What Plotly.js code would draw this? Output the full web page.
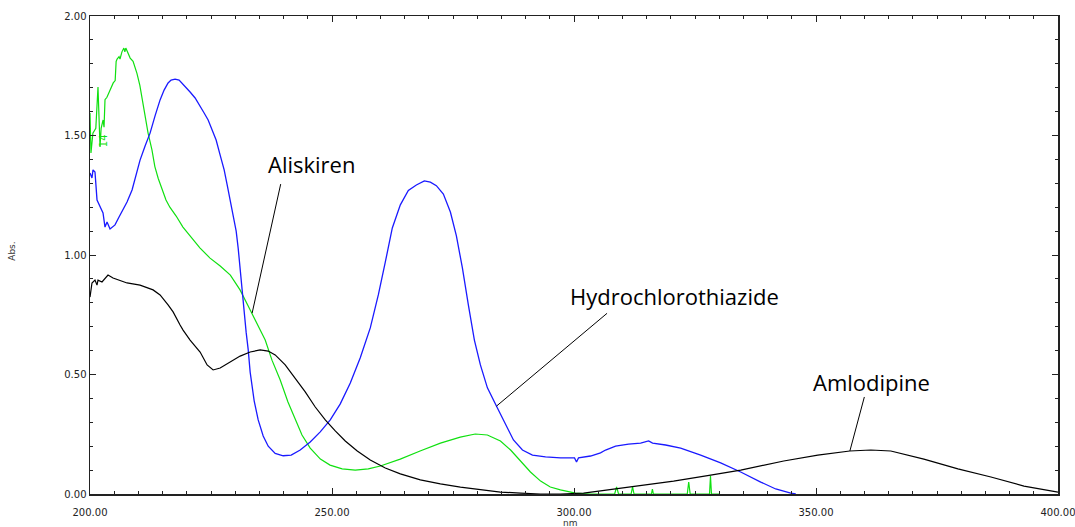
<!DOCTYPE html>
<html>
<head>
<meta charset="utf-8">
<script src="https://cdn.plot.ly/plotly-3.0.1.min.js"></script>
<style>html,body{margin:0;padding:0;background:#fff;}#chart{width:1075px;height:527px;}</style>
</head>
<body>
<div id="chart"></div>
<script>
// Aliskiren (green)
const aliskirenX = [200.0,200.2,200.6,201.2,201.65,201.9,202.07,202.3,202.7,202.9,203.1,203.5,203.9,204.3,204.8,205.2,205.4,205.6,206.0,206.2,206.6,207.0,207.2,207.4,207.9,208.3,208.9,209.7,210.3,210.8,211.4,212.0,212.8,213.4,214.1,214.9,215.7,216.5,217.8,219.2,220.7,222.7,224.8,226.9,229.0,231.0,233.1,234.7,236.2,237.6,239.3,240.9,242.4,243.8,245.5,247.6,249.6,252.1,254.8,257.5,260.0,264.1,268.2,272.4,276.5,279.6,282.1,284.8,286.9,288.9,291.0,293.1,295.1,297.2,300.3,303.4,308.4,308.8,309.2,311.8,312.1,312.4,316.0,316.2,316.4,323.4,323.7,324.0,328.0,328.2,328.4,330.0];
const aliskirenY = [1.594,1.427,1.51,1.53,1.703,1.48,1.452,1.53,1.565,1.535,1.65,1.66,1.68,1.70,1.72,1.73,1.81,1.82,1.83,1.82,1.85,1.866,1.85,1.866,1.845,1.824,1.81,1.76,1.71,1.65,1.586,1.51,1.44,1.37,1.32,1.27,1.23,1.20,1.163,1.117,1.08,1.03,0.987,0.954,0.916,0.854,0.77,0.707,0.644,0.56,0.477,0.385,0.31,0.247,0.192,0.146,0.121,0.105,0.10,0.105,0.117,0.146,0.18,0.213,0.238,0.251,0.247,0.222,0.184,0.138,0.092,0.054,0.029,0.017,0.004,0.0,0.0,0.03,0.0,0.0,0.03,0.0,0.0,0.02,0.0,0.0,0.05,0.0,0.0,0.075,0.0,0.0];

// Hydrochlorothiazide (blue)
const hctX = [200.0,200.41,200.62,201.03,201.45,202.07,202.69,203.1,203.52,204.14,205.17,206.0,206.83,207.65,208.69,209.51,210.34,211.38,212.41,213.44,214.48,215.31,216.13,216.75,217.58,218.41,219.44,220.68,221.72,222.75,223.58,224.41,225.23,226.06,226.89,227.72,228.34,228.96,229.58,230.2,230.61,231.02,231.44,231.85,232.27,232.68,233.09,233.92,234.75,235.78,236.82,238.26,239.92,241.57,243.43,245.5,247.57,249.64,251.71,253.78,255.84,257.91,259.57,261.01,262.46,264.12,265.77,267.43,269.08,270.32,271.56,273.01,274.46,275.7,276.94,278.18,279.42,280.66,282.11,283.97,285.83,287.49,289.35,291.42,294.11,297.21,300.11,300.52,300.93,303.42,305.48,306.52,308.59,311.27,313.76,315.41,316.24,318.93,322.03,326.17,330.3,334.44,338.58,341.68,344.78,345.82];
const hctY = [1.343,1.322,1.356,1.347,1.23,1.20,1.176,1.117,1.138,1.109,1.126,1.159,1.188,1.222,1.272,1.335,1.397,1.456,1.51,1.582,1.649,1.69,1.72,1.732,1.736,1.732,1.711,1.682,1.657,1.619,1.594,1.565,1.523,1.481,1.418,1.356,1.293,1.23,1.165,1.10,1.03,0.94,0.84,0.75,0.675,0.605,0.51,0.39,0.31,0.243,0.20,0.17,0.16,0.163,0.184,0.218,0.26,0.31,0.377,0.464,0.57,0.695,0.833,0.97,1.113,1.21,1.27,1.293,1.31,1.305,1.29,1.255,1.18,1.08,0.946,0.79,0.644,0.54,0.444,0.368,0.29,0.226,0.184,0.163,0.155,0.151,0.151,0.134,0.151,0.159,0.172,0.184,0.20,0.209,0.213,0.222,0.213,0.205,0.192,0.163,0.13,0.092,0.05,0.021,0.004,0.0];

// Amlodipine (black)
const amlodipineX = [200.0,200.41,201.03,201.45,201.65,202.48,203.72,204.76,207.65,210.34,213.03,214.48,216.13,217.17,218.61,219.23,220.68,222.75,224.2,225.44,226.89,228.96,231.02,233.09,235.16,236.82,238.26,240.33,242.4,244.47,246.54,248.61,250.67,252.74,255.22,257.91,261.01,264.12,268.25,272.39,276.53,280.66,284.8,288.94,293.07,297.21,301.97,305.48,310.24,315.82,320.58,328.23,334.44,343.33,350.37,356.98,361.33,365.46,372.29,379.32,386.14,392.97,400.0];
const amlodipineY = [0.824,0.883,0.895,0.874,0.895,0.887,0.916,0.904,0.883,0.874,0.854,0.833,0.791,0.762,0.707,0.686,0.644,0.594,0.54,0.519,0.527,0.552,0.577,0.594,0.603,0.598,0.582,0.54,0.485,0.427,0.364,0.31,0.264,0.222,0.18,0.142,0.109,0.084,0.059,0.042,0.029,0.017,0.008,0.004,0.0,0.0,0.004,0.013,0.025,0.042,0.054,0.079,0.10,0.138,0.163,0.18,0.184,0.18,0.146,0.105,0.071,0.033,0.008];

// Labels and the curve points they point to
const labelNames = ['Aliskiren', 'Hydrochlorothiazide', 'Amlodipine'];
const labelX = [233.5, 284.0, 357.0];
const labelY = [0.757, 0.368, 0.18];
const textOffsets = [[59, -149], [178, -110], [22, -69]];
const lineOffsets = [[29, -131], [112, -94], [15, -56]];

const xTicks = [200, 250, 300, 350, 400];
const yTicks = [0, 0.5, 1.0, 1.5, 2.0];

const traces = [
  {x: aliskirenX, y: aliskirenY, mode: 'lines', line: {color: '#10e010', width: 1.2}, name: 'Aliskiren'},
  {x: hctX, y: hctY, mode: 'lines', line: {color: '#1a1aff', width: 1.3}, name: 'Hydrochlorothiazide'},
  {x: amlodipineX, y: amlodipineY, mode: 'lines', line: {color: '#000000', width: 1.2}, name: 'Amlodipine'}
];

const annotations = [];
labelNames.forEach((name, i) => {
  annotations.push({
    x: labelX[i], y: labelY[i], xref: 'x', yref: 'y',
    text: ' ', font: {size: 1},
    showarrow: true, arrowhead: 0, arrowwidth: 1, arrowcolor: '#000',
    ax: lineOffsets[i][0], ay: lineOffsets[i][1], standoff: 0, startstandoff: 0
  });
  annotations.push({
    x: labelX[i], y: labelY[i], xref: 'x', yref: 'y',
    text: name, font: {family: 'Open Sans', size: 22, color: '#000'},
    showarrow: true, arrowcolor: 'rgba(0,0,0,0)',
    ax: textOffsets[i][0], ay: textOffsets[i][1]
  });
});
annotations.push({
  xref: 'paper', yref: 'paper', x: -0.0872, y: 0.508, text: 'Abs.',
  textangle: -90, showarrow: false,
  font: {family: 'DejaVu Sans', size: 9, color: '#333'}
});
annotations.push({
  xref: 'paper', yref: 'paper', x: 0.496, y: -0.06, yanchor: 'middle', text: 'nm',
  showarrow: false, font: {family: 'DejaVu Sans', size: 9, color: '#333'}
});
annotations.push({
  xref: 'paper', yref: 'paper', x: 0.0062, y: 0.757, text: '14',
  textangle: -90, showarrow: false,
  font: {family: 'DejaVu Sans', size: 10, color: '#10e010'}
});

const axisCommon = {
  showline: true, linecolor: '#222', linewidth: 1.5, mirror: 'ticks',
  ticks: 'inside', ticklen: 6, tickwidth: 1, tickcolor: '#222',
  showgrid: false, zeroline: false,
  tickfont: {family: 'DejaVu Sans', size: 10, color: '#222'},
  tickformat: '.2f', ticklabeloverflow: 'allow'
};

const layout = {
  width: 1075, height: 527,
  margin: {l: 90, r: 17, t: 16, b: 33},
  paper_bgcolor: '#fff', plot_bgcolor: '#fff',
  showlegend: false,
  xaxis: Object.assign({}, axisCommon, {
    range: [200, 400], tickvals: xTicks, ticklabelstandoff: 8,
    minor: {dtick: 5, ticks: 'inside', ticklen: 3, tickcolor: '#222', showgrid: false}
  }),
  yaxis: Object.assign({}, axisCommon, {
    range: [0, 2], tickvals: yTicks,
    minor: {dtick: 0.1, ticks: 'inside', ticklen: 3, tickcolor: '#222', showgrid: false}
  }),
  annotations: annotations
};

Plotly.newPlot('chart', traces, layout, {displayModeBar: false, staticPlot: true});
</script>
</body>
</html>
